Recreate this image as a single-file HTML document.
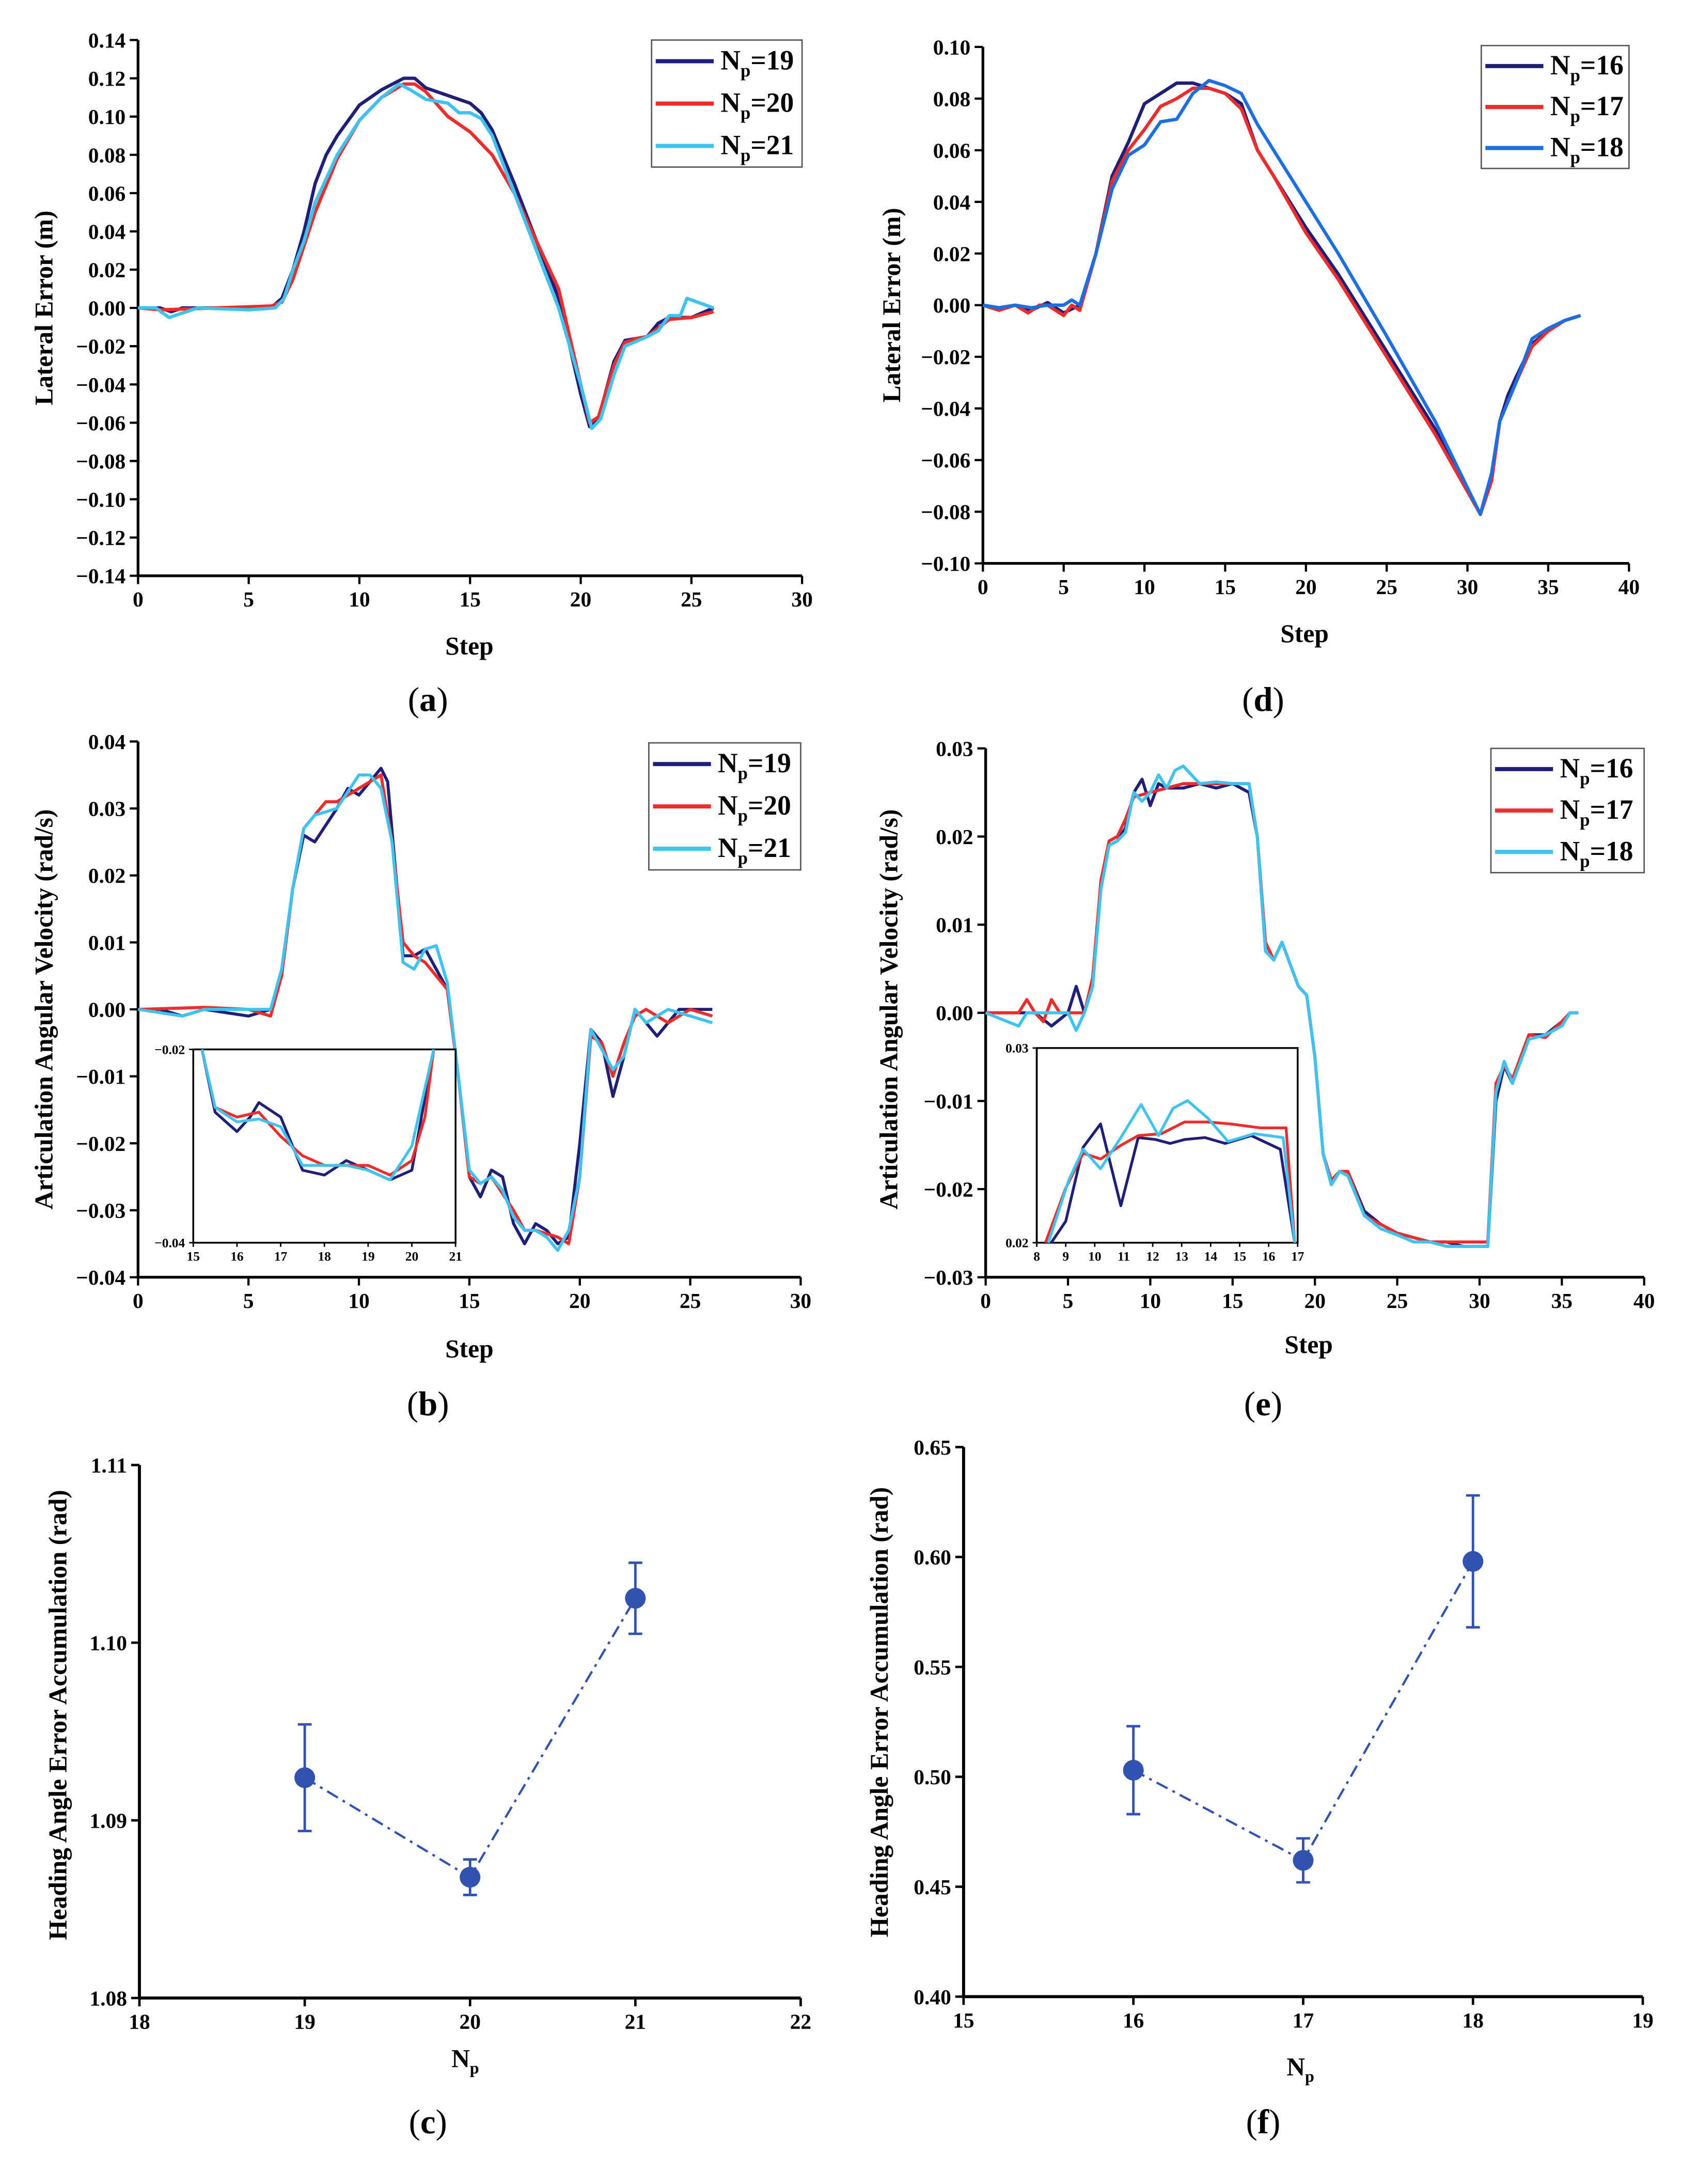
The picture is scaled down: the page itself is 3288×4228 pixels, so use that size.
<!DOCTYPE html>
<html><head><meta charset="utf-8"><style>
html,body{margin:0;padding:0;background:#fff}
svg{display:block}
text{font-family:"Liberation Serif",serif;font-weight:bold;fill:#000}
</style></head><body>
<svg id="fig" xmlns="http://www.w3.org/2000/svg" width="3288" height="4228" viewBox="0 0 1230 1581.7" preserveAspectRatio="none"></svg>
<script>
// ---------- DATA ----------
const aX19=[0,1,1.5,2,6,6.5,7,7.5,8,8.5,9,10,11,12,12.5,13,14,15,15.5,16,17,18,19,20,20.4,20.8,21.5,22,23,23.5,24,25,26];
const aY19=[0,0,-0.002,0,0,0.005,0.02,0.04,0.065,0.08,0.09,0.106,0.114,0.12,0.12,0.115,0.111,0.107,0.102,0.093,0.065,0.035,0.005,-0.045,-0.062,-0.058,-0.028,-0.017,-0.015,-0.008,-0.005,-0.005,0];
const aX20=[0,1,6,6.5,7,8,9,10,11,12,12.5,13,14,15,16,17,18,19,20,20.4,20.8,21.5,22,22.5,23,24,25,26];
const aY20=[0,-0.001,0.001,0.003,0.015,0.05,0.078,0.098,0.11,0.117,0.117,0.113,0.1,0.092,0.08,0.06,0.035,0.01,-0.04,-0.06,-0.057,-0.03,-0.018,-0.016,-0.015,-0.006,-0.005,-0.002];
const aX21=[0,0.8,1.4,2.7,5,6.2,6.6,7,7.5,8,9,10,11,11.8,12.3,13,14,14.5,15,15.5,16,17,18,19,20,20.5,20.9,21.5,22,23,23.5,24,24.5,24.8,26];
const aY21=[0,0,-0.005,0,-0.001,0,0.005,0.02,0.035,0.055,0.08,0.098,0.11,0.117,0.114,0.109,0.107,0.102,0.102,0.099,0.09,0.06,0.03,0,-0.04,-0.063,-0.058,-0.035,-0.02,-0.015,-0.012,-0.004,-0.004,0.005,0];
const aYTicks=[0.14,0.12,0.10,0.08,0.06,0.04,0.02,0.00,-0.02,-0.04,-0.06,-0.08,-0.10,-0.12,-0.14];
const aXTicks=[0,5,10,15,20,25,30];
const dX16=[0,1,2,3,4,5,6,7,8,9,10,11,12,13,14,15,16,17,18,20,22,25,28,30.8,31.5,32,32.5,33,34,35,36,37];
const dY16=[0,-0.001,0,-0.002,0.001,-0.003,0,0.02,0.05,0.063,0.078,0.082,0.086,0.086,0.084,0.082,0.078,0.06,0.05,0.03,0.012,-0.018,-0.048,-0.081,-0.065,-0.045,-0.035,-0.028,-0.015,-0.01,-0.006,-0.004];
const dX17=[0,1,2,2.8,3.5,4,5,5.5,6,7,8,9,10,11,12,13,14,15,16,17,18,20,22,25,28,30.8,31.5,32,33,34,35,36,37];
const dY17=[0,-0.002,0,-0.003,0,0,-0.004,0,-0.002,0.02,0.048,0.06,0.068,0.077,0.08,0.084,0.084,0.082,0.076,0.06,0.05,0.028,0.01,-0.02,-0.05,-0.081,-0.068,-0.045,-0.03,-0.016,-0.01,-0.006,-0.004];
const dX18=[0,1,2,3,4,5,5.5,6,7,8,9,10,11,12,13,14,15,16,17,19,22,25,28,30.8,31.5,32,33,34,35,36,37];
const dY18=[0,-0.001,0,-0.001,0,0,0.002,0,0.02,0.045,0.058,0.062,0.071,0.072,0.082,0.087,0.085,0.082,0.07,0.05,0.02,-0.012,-0.045,-0.081,-0.065,-0.045,-0.03,-0.013,-0.009,-0.006,-0.004];
const dYTicks=[0.10,0.08,0.06,0.04,0.02,0.00,-0.02,-0.04,-0.06,-0.08,-0.10];
const dXTicks=[0,5,10,15,20,25,30,35,40];
const bX19=[0,1,2,3,5,6,6.5,7,7.5,8,9,9.5,10,10.5,11,11.3,12,12.5,13,14,14.5,15,15.5,16,16.5,17,17.5,18,18.5,19,19.5,20,20.5,21,21.5,22,22.5,23,23.5,24,24.5,26];
const bY19=[0,0,-0.001,0,-0.001,0,0.005,0.018,0.026,0.025,0.03,0.033,0.032,0.034,0.036,0.034,0.008,0.008,0.009,0.003,-0.01,-0.025,-0.028,-0.024,-0.025,-0.032,-0.035,-0.032,-0.033,-0.035,-0.034,-0.02,-0.003,-0.005,-0.013,-0.007,0,-0.002,-0.004,-0.002,0,0];
const bX20=[0,3,5,6,6.5,7,7.5,8,8.5,9,10,11,11.5,12,12.5,13,14,14.5,15,15.5,16,17,17.5,18,19,19.5,20,20.5,21,21.5,22,22.5,23,24,25,26];
const bY20=[0,0.0003,0,-0.001,0.005,0.018,0.027,0.029,0.031,0.031,0.033,0.035,0.025,0.01,0.008,0.007,0.003,-0.01,-0.025,-0.026,-0.025,-0.03,-0.033,-0.033,-0.034,-0.035,-0.025,-0.004,-0.005,-0.01,-0.005,-0.001,0,-0.002,0,-0.001];
const bX21=[0,2,3,5,6,6.5,7,7.5,8,9,10,10.5,11,11.5,12,12.5,13,13.5,14,14.5,15,15.5,16,16.5,17,17.5,18,18.5,19,19.5,20,20.5,21,21.5,22,22.5,23,24,25,26];
const bY21=[0,-0.001,0,0,0,0.006,0.018,0.027,0.029,0.03,0.035,0.035,0.033,0.025,0.007,0.006,0.009,0.0095,0.004,-0.01,-0.024,-0.026,-0.025,-0.027,-0.031,-0.033,-0.033,-0.034,-0.036,-0.033,-0.025,-0.003,-0.006,-0.009,-0.007,0,-0.002,0,-0.001,-0.002];
const bYTicks=[0.04,0.03,0.02,0.01,0.00,-0.01,-0.02,-0.03,-0.04];
const bXTicks=[0,5,10,15,20,25,30];
const biX19=[15.2,15.5,16,16.3,16.5,17,17.5,18,18.5,19,19.5,20,20.3,20.5];
const biY19=[-0.02,-0.0265,-0.0285,-0.027,-0.0255,-0.027,-0.0325,-0.033,-0.0315,-0.0325,-0.0335,-0.0325,-0.025,-0.02];
const biX20=[15.2,15.5,16,16.5,17,17.5,18,19,19.5,20,20.3,20.5];
const biY20=[-0.02,-0.026,-0.027,-0.0265,-0.029,-0.031,-0.032,-0.032,-0.033,-0.0315,-0.027,-0.02];
const biX21=[15.2,15.5,16,16.5,17,17.5,18,18.5,19,19.5,20,20.3,20.5];
const biY21=[-0.02,-0.026,-0.0275,-0.0272,-0.028,-0.032,-0.032,-0.032,-0.0325,-0.0335,-0.030,-0.024,-0.02];
const biYTicks=[-0.02,-0.04];
const biXTicks=[15,16,17,18,19,20,21];
const eX16=[0,2,3,4,5,5.5,6,6.5,7,7.5,8,8.5,9,9.5,10,10.5,11,12,13,14,15,16,16.5,17,17.5,18,19,19.5,20,20.5,21,21.5,22,23,24,25,26,27,28,29,30,30.5,31,31.5,32,32.5,33,34,35,35.5,36];
const eY16=[0,0,0,-0.0015,0,0.003,0,0.003,0.015,0.019,0.0195,0.021,0.025,0.0265,0.0235,0.026,0.0255,0.0255,0.026,0.0255,0.026,0.025,0.02,0.007,0.006,0.008,0.003,0.002,-0.005,-0.016,-0.0195,-0.018,-0.018,-0.0225,-0.024,-0.025,-0.0255,-0.026,-0.026,-0.0265,-0.0265,-0.0265,-0.01,-0.006,-0.008,-0.005,-0.0025,-0.0025,-0.001,0,0];
const eX17=[0,2,2.5,3,3.5,4,4.5,6,6.5,7,7.5,8,8.5,9,10,11,12,13,14,15,16,16.5,17,17.5,18,19,19.5,20,20.5,21,21.5,22,23,24,25,26,27,28,30,30.5,31,31.5,32,33,34,35,35.5,36];
const eY17=[0,0,0.0015,0,-0.001,0.0015,0,0,0.004,0.015,0.0195,0.02,0.022,0.0245,0.025,0.0255,0.026,0.026,0.026,0.026,0.026,0.02,0.008,0.006,0.008,0.003,0.002,-0.005,-0.016,-0.019,-0.018,-0.018,-0.023,-0.024,-0.025,-0.0255,-0.026,-0.026,-0.026,-0.026,-0.008,-0.006,-0.0075,-0.0025,-0.0028,-0.001,0,0];
const eX18=[0,2,2.5,5,5.5,6,6.5,7,7.5,8,8.5,9,9.5,10,10.5,11,11.5,12,12.5,13,14,15,16,16.5,17,17.5,18,19,19.5,20,20.5,21,21.5,22,23,24,25,26,27,28,30,30.5,31,31.5,32,33,34,35,35.5,36];
const eY18=[0,-0.0015,0,0,-0.002,0,0.003,0.014,0.019,0.0195,0.0205,0.025,0.024,0.025,0.027,0.0255,0.0275,0.028,0.027,0.026,0.0262,0.026,0.026,0.02,0.007,0.006,0.008,0.003,0.002,-0.005,-0.016,-0.0195,-0.018,-0.0185,-0.023,-0.0245,-0.0252,-0.026,-0.026,-0.0265,-0.0265,-0.0265,-0.009,-0.0055,-0.008,-0.003,-0.0025,-0.0015,0,0];
const eYTicks=[0.03,0.02,0.01,0.00,-0.01,-0.02,-0.03];
const eXTicks=[0,5,10,15,20,25,30,35,40];
const eiX16=[8.5,9,9.6,10.2,10.9,11.5,12.1,12.6,13.1,13.8,14.5,15.4,16.4,16.9];
const eiY16=[0.02,0.0211,0.0249,0.0261,0.0219,0.0254,0.0253,0.0251,0.0253,0.0254,0.0251,0.0255,0.0248,0.020];
const eiX17=[8.3,9,9.6,10.2,10.9,11.5,12.3,13.1,13.9,14.7,15.7,16.6,16.9];
const eiY17=[0.02,0.0228,0.0246,0.0243,0.025,0.0255,0.0256,0.0262,0.0262,0.0261,0.0259,0.0259,0.020];
const eiX18=[8.4,9.1,9.6,10.2,10.9,11.6,12.2,12.7,13.2,13.9,14.6,15.5,16.5,16.9];
const eiY18=[0.02,0.0232,0.0248,0.0238,0.0254,0.0271,0.0255,0.0269,0.0273,0.0264,0.0252,0.0256,0.0254,0.020];
const eiYTicks=[0.03,0.02];
const eiXTicks=[8,9,10,11,12,13,14,15,16,17];
const cNp=[19,20,21];
const cVal=[1.0924,1.0868,1.1025];
const cErr=[0.003,0.001,0.002];
const cYTicks=[1.11,1.10,1.09,1.08];
const cXTicks=[18,19,20,21,22];
const fNp=[16,17,18];
const fVal=[0.503,0.462,0.598];
const fErr=[0.02,0.01,0.03];
const fYTicks=[0.65,0.60,0.55,0.50,0.45,0.40];
const fXTicks=[15,16,17,18,19];

// ---------- DRAWING ----------
const NS='http://www.w3.org/2000/svg';
const svg=document.getElementById('fig');
function mk(tag,attrs,parent){const e=document.createElementNS(NS,tag);for(const k in attrs)e.setAttribute(k,attrs[k]);(parent||svg).appendChild(e);return e;}
function scale(d0,d1,p0,p1){return v=>p0+(v-d0)/(d1-d0)*(p1-p0);}
function fmt(v,dec){let s=Math.abs(v).toFixed(dec);return (v<0?'\u2212':'')+s;}
const NAVY='#1f1f78',RED='#ee2c2c',CYAN='#3fc3ee',BLUE='#1e6ee0',MARK='#3152b0';
const TFS=15.5, AFS=18.5;

function axes(g,name,X,Y,x0,x1,y0,y1,xt,yt,dec,fs,tl,lw){
  const ax=mk('g',{},g);
  
  
  mk('line',{x1:x0,y1:y0,x2:x0,y2:y1,stroke:'#000','stroke-width':lw},ax);
  mk('line',{x1:x0,y1:y1,x2:x1,y2:y1,stroke:'#000','stroke-width':lw},ax);
  yt.forEach(v=>{const y=Y(v);
    mk('line',{x1:x0-tl,y1:y,x2:x0,y2:y,stroke:'#000','stroke-width':lw*0.8},ax);
    const t=mk('text',{x:x0-tl-3,y:y+fs*0.35,'text-anchor':'end','font-size':fs},ax);t.textContent=fmt(v,dec);
    
    });
  xt.forEach(v=>{const x=X(v);
    mk('line',{x1:x,y1:y1,x2:x,y2:y1+tl,stroke:'#000','stroke-width':lw*0.8},ax);
    const t=mk('text',{x:x,y:y1+tl+fs*1.05,'text-anchor':'middle','font-size':fs},ax);t.textContent=String(v);
    
    });
}
function line(g,name,X,Y,xs,ys,col,w){
  const p=mk('polyline',{points:xs.map((x,i)=>X(x).toFixed(2)+','+Y(ys[i]).toFixed(2)).join(' '),fill:'none',stroke:col,'stroke-width':w,'stroke-linejoin':'round'},g);
  
  
}
function label(txt,x,y,fs,rot,name,sub,after){
  const t=mk('text',{x:x,y:y,'text-anchor':'middle','font-size':fs});
  if(rot)t.setAttribute('transform','rotate(-90 '+x+' '+y+')');
  t.textContent=txt;
  if(sub){const s=mk('tspan',{'font-size':fs*0.65,dy:fs*0.25},t);s.textContent=sub;
    if(after){const a=mk('tspan',{dy:-fs*0.25},t);a.textContent=after;}}
  
  
  return t;
}
function plabel(letter,x,y,name){
  const t=mk('text',{x:x,y:y,'text-anchor':'middle','font-size':25,'font-weight':'normal'});
  const a=mk('tspan',{'font-weight':'normal'},t);a.textContent='(';
  const b=mk('tspan',{'font-weight':'bold'},t);b.textContent=letter;
  const c=mk('tspan',{'font-weight':'normal'},t);c.textContent=')';
  
  
}
function legend(name,x0,y0,x1,y1,entries){
  const g=mk('g',{});
  
  
  mk('rect',{x:x0,y:y0,width:x1-x0,height:y1-y0,fill:'#fff',stroke:'#555','stroke-width':1},g);
  const h=(y1-y0)/entries.length;
  entries.forEach((e,i)=>{const y=y0+h*(i+0.5);
    const ln=mk('line',{x1:x0+3,y1:y,x2:x0+45,y2:y,stroke:e[0],'stroke-width':3},g);
    
    
    const t=mk('text',{x:x0+50,y:y+6,'font-size':20},g);t.textContent='N';
    const s=mk('tspan',{'font-size':13,dy:5},t);s.textContent='p';
    const a=mk('tspan',{dy:-5},t);a.textContent='='+e[1];
    
    });
}
function panel(name){const g=mk('g',{});return g;}

{const g=panel('panel-a');const X=scale(0,30,100,581),Y=scale(0.14,-0.14,29,417);
 axes(g,'panel-a',X,Y,100,581,29,417,aXTicks,aYTicks,2,TFS,6,2);
 line(g,'series-np19',X,Y,aX19,aY19,NAVY,2.4);line(g,'series-np20',X,Y,aX20,aY20,RED,2.4);line(g,'series-np21',X,Y,aX21,aY21,CYAN,2.4);
 legend('legend-a',472,29,581,121,[[NAVY,19],[RED,20],[CYAN,21]]);
 label('Lateral Error (m)',38,223,AFS,true,'y-axis-title-a');label('Step',340,474,AFS,false,'x-axis-title-a');plabel('a',310,515,'panel-label-a');}
{const g=panel('panel-d');const X=scale(0,40,712,1180),Y=scale(0.10,-0.10,34,408);
 axes(g,'panel-d',X,Y,712,1180,34,408,dXTicks,dYTicks,2,TFS,6,2);
 line(g,'series-np16',X,Y,dX16,dY16,NAVY,2.4);line(g,'series-np17',X,Y,dX17,dY17,RED,2.4);line(g,'series-np18',X,Y,dX18,dY18,BLUE,2.4);
 legend('legend-d',1073,33,1180,122,[[NAVY,16],[RED,17],[BLUE,18]]);
 label('Lateral Error (m)',652,221,AFS,true,'y-axis-title-d');label('Step',945,465,AFS,false,'x-axis-title-d');plabel('d',915,515,'panel-label-d');}
{const g=panel('panel-b');const X=scale(0,30,100,580),Y=scale(0.04,-0.04,537,925);
 axes(g,'panel-b',X,Y,100,580,537,925,bXTicks,bYTicks,2,TFS,6,2);
 line(g,'series-np19',X,Y,bX19,bY19,NAVY,2.2);line(g,'series-np20',X,Y,bX20,bY20,RED,2.2);line(g,'series-np21',X,Y,bX21,bY21,CYAN,2.2);
 legend('legend-b',470,538,580,630,[[NAVY,19],[RED,20],[CYAN,21]]);
 const ig=panel('inset-b');const IX=scale(15,21,140,330),IY=scale(-0.02,-0.04,760,900);
 mk('rect',{x:140,y:760,width:190,height:140,fill:'#fff',stroke:'#000','stroke-width':1.3},ig);
 axes(ig,'inset-b',IX,IY,140,330,760,900,biXTicks,biYTicks,2,9.5,3,1.3);
 line(ig,'inset-np19',IX,IY,biX19,biY19,NAVY,2);line(ig,'inset-np20',IX,IY,biX20,biY20,RED,2);line(ig,'inset-np21',IX,IY,biX21,biY21,CYAN,2);
 label('Articulation Angular Velocity (rad/s)',38,731,AFS,true,'y-axis-title-b');label('Step',340,983,AFS,false,'x-axis-title-b');plabel('b',310,1025,'panel-label-b');}
{const g=panel('panel-e');const X=scale(0,40,714,1191),Y=scale(0.03,-0.03,542,925);
 axes(g,'panel-e',X,Y,714,1191,542,925,eXTicks,eYTicks,2,TFS,6,2);
 line(g,'series-np16',X,Y,eX16,eY16,NAVY,2.2);line(g,'series-np17',X,Y,eX17,eY17,RED,2.2);line(g,'series-np18',X,Y,eX18,eY18,CYAN,2.2);
 legend('legend-e',1080,542,1191,632,[[NAVY,16],[RED,17],[CYAN,18]]);
 const ig=panel('inset-e');const IX=scale(8,17,751,940),IY=scale(0.03,0.02,759,900);
 mk('rect',{x:751,y:759,width:189,height:141,fill:'#fff',stroke:'#000','stroke-width':1.3},ig);
 axes(ig,'inset-e',IX,IY,751,940,759,900,eiXTicks,eiYTicks,2,9.5,3,1.3);
 line(ig,'inset-np16',IX,IY,eiX16,eiY16,NAVY,2);line(ig,'inset-np17',IX,IY,eiX17,eiY17,RED,2);line(ig,'inset-np18',IX,IY,eiX18,eiY18,CYAN,2);
 label('Articulation Angular Velocity (rad/s)',650,731,AFS,true,'y-axis-title-e');label('Step',948,980,AFS,false,'x-axis-title-e');plabel('e',915,1025,'panel-label-e');}
function scatter(name,Xd,Yd,x0,x1,y0,y1,xt,yt,dec,np,val,err){
  const g=panel(name);const X=scale(Xd[0],Xd[1],x0,x1),Y=scale(Yd[0],Yd[1],y0,y1);
  axes(g,name,X,Y,x0,x1,y0,y1,xt,yt,dec,TFS,6,2.2);
  const p=mk('polyline',{points:np.map((n,i)=>X(n)+','+Y(val[i])).join(' '),fill:'none',stroke:MARK,'stroke-width':1.6,'stroke-dasharray':'9,4,2,4'},g);
  
  
  np.forEach((n,i)=>{const x=X(n),yt2=Y(val[i]+err[i]),yb=Y(val[i]-err[i]);
    const eb=mk('path',{d:'M'+x+','+yt2+'V'+yb+'M'+(x-5)+','+yt2+'H'+(x+5)+'M'+(x-5)+','+yb+'H'+(x+5),stroke:MARK,'stroke-width':1.8,fill:'none'},g);
    
    
    const c=mk('circle',{cx:x,cy:Y(val[i]),r:7.5,fill:MARK},g);
    
    });
}
scatter('panel-c',[18,22],[1.11,1.08],101,580,1061,1447,cXTicks,cYTicks,2,cNp,cVal,cErr);
label('Heading Angle Error Accumulation (rad)',48,1242,AFS,true,'y-axis-title-c');
label('N',337,1497,AFS,false,'x-axis-title-c','p');
plabel('c',310,1545,'panel-label-c');
scatter('panel-f',[15,19],[0.65,0.40],698,1190,1048,1446,fXTicks,fYTicks,2,fNp,fVal,fErr);
label('Heading Angle Error Accumulation (rad)',643,1240,AFS,true,'y-axis-title-f');
label('N',942,1503,AFS,false,'x-axis-title-f','p');
plabel('f',915,1545,'panel-label-f');
</script>
</body></html>
